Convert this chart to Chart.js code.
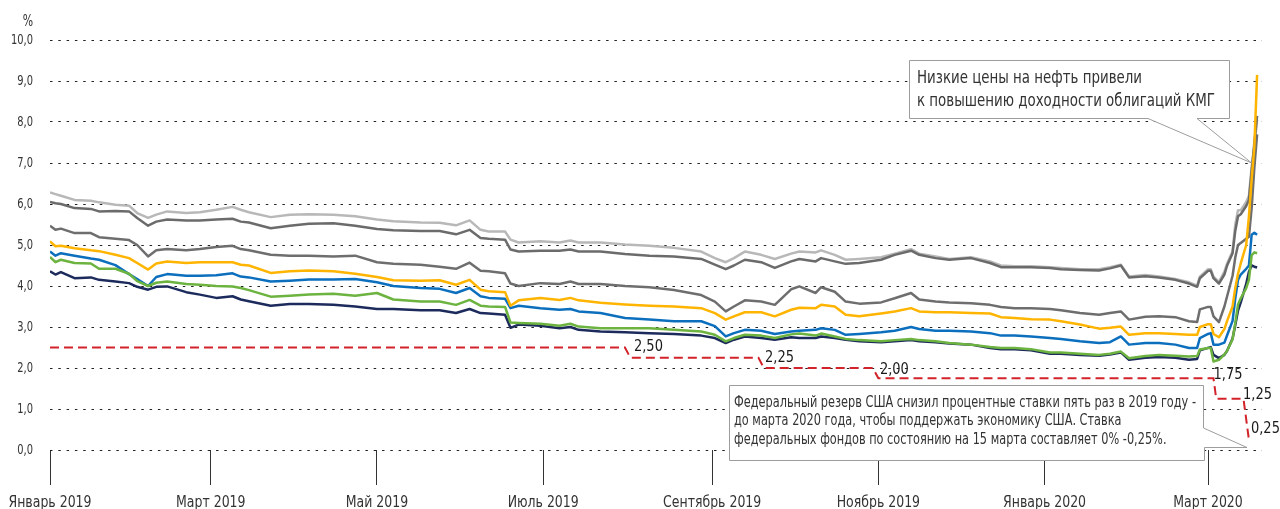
<!DOCTYPE html>
<html><head><meta charset="utf-8">
<script src="https://cdn.jsdelivr.net/npm/chart.js@4.4.1/dist/chart.umd.min.js"></script>
<style>html,body{margin:0;padding:0;background:#fff;overflow:hidden}canvas{display:block}</style>
</head><body>
<canvas id="c" width="1280" height="509"></canvas>
<script>
const FONT = "'DejaVu Sans Condensed', 'DejaVu Sans', sans-serif";

// days since 1 Jan 2019
const days = [0,2,4,9,15,18,24,29,32,36,39,43,50,55,61,67,70,73,81,88,95,104,112,120,126,136,143,149,154,158,161,167,169,172,180,187,191,194,202,211,220,229,239,244,248,251,255,261,266,272,275,281,283,288,292,297,305,310,316,319,325,330,338,345,349,354,360,367,371,378,385,389,393,396,402,407,413,418,421,422,425,426,427,429,431,432,434,435,436,437,439,440,441,442,443];

const lightGray = [6.28,6.24,6.20,6.10,6.08,6.04,5.98,5.96,5.78,5.66,5.74,5.82,5.78,5.80,5.86,5.93,5.86,5.80,5.68,5.74,5.75,5.74,5.70,5.62,5.58,5.55,5.54,5.48,5.60,5.37,5.33,5.33,5.13,5.06,5.09,5.06,5.11,5.06,5.06,5.01,4.98,4.93,4.84,4.68,4.58,4.68,4.84,4.76,4.66,4.79,4.84,4.82,4.87,4.76,4.64,4.66,4.70,4.79,4.90,4.79,4.72,4.66,4.70,4.60,4.50,4.48,4.48,4.46,4.44,4.41,4.41,4.46,4.52,4.23,4.27,4.23,4.17,4.09,4.01,4.23,4.41,4.41,4.23,4.10,4.35,4.55,4.85,5.50,5.85,5.85,6.05,6.20,6.90,7.40,8.05];
const darkGray = [6.05,6.02,6.00,5.90,5.88,5.82,5.83,5.82,5.66,5.47,5.57,5.62,5.60,5.60,5.62,5.64,5.57,5.55,5.41,5.47,5.52,5.53,5.47,5.39,5.36,5.34,5.34,5.26,5.37,5.17,5.15,5.13,4.89,4.84,4.86,4.86,4.89,4.84,4.84,4.78,4.74,4.72,4.66,4.52,4.41,4.50,4.64,4.58,4.44,4.60,4.66,4.60,4.68,4.60,4.54,4.56,4.64,4.76,4.86,4.76,4.68,4.64,4.68,4.56,4.46,4.46,4.46,4.44,4.41,4.39,4.38,4.43,4.50,4.21,4.24,4.21,4.15,4.06,3.98,4.19,4.37,4.37,4.19,4.06,4.28,4.50,4.80,5.35,5.70,5.75,5.95,6.10,6.80,7.50,8.15];
const midGray = [5.47,5.37,5.40,5.29,5.29,5.19,5.15,5.12,5.00,4.72,4.87,4.90,4.87,4.90,4.95,4.98,4.90,4.87,4.76,4.74,4.74,4.72,4.74,4.58,4.54,4.52,4.47,4.42,4.57,4.37,4.36,4.31,4.06,4.00,4.07,4.05,4.11,4.05,4.05,4.00,3.97,3.90,3.78,3.62,3.38,3.50,3.65,3.62,3.54,3.92,3.99,3.83,3.97,3.86,3.62,3.57,3.60,3.70,3.83,3.67,3.62,3.60,3.58,3.54,3.49,3.46,3.46,3.44,3.41,3.34,3.30,3.34,3.38,3.18,3.25,3.26,3.24,3.14,3.12,3.43,3.49,3.49,3.26,3.12,3.50,3.75,4.25,4.70,5.00,5.05,5.15,5.20,5.90,6.90,7.70];
const yellow = [5.09,4.97,4.98,4.92,4.87,4.85,4.76,4.68,4.56,4.40,4.55,4.60,4.56,4.58,4.58,4.58,4.52,4.50,4.32,4.36,4.38,4.36,4.30,4.22,4.14,4.13,4.14,4.03,4.15,3.91,3.87,3.85,3.52,3.65,3.71,3.66,3.71,3.65,3.59,3.55,3.52,3.50,3.46,3.34,3.18,3.26,3.36,3.36,3.26,3.42,3.47,3.46,3.54,3.50,3.30,3.26,3.33,3.38,3.46,3.38,3.36,3.36,3.34,3.33,3.24,3.22,3.19,3.18,3.14,3.06,2.96,2.98,3.01,2.81,2.85,2.85,2.83,2.81,2.81,3.00,3.07,3.07,2.83,2.75,2.95,3.15,3.50,3.95,4.30,4.55,5.00,5.70,6.60,7.40,9.15];
const blue = [4.84,4.74,4.80,4.74,4.67,4.64,4.51,4.29,4.17,4.00,4.22,4.29,4.25,4.25,4.26,4.31,4.23,4.21,4.11,4.13,4.16,4.16,4.17,4.09,4.00,3.95,3.93,3.83,3.95,3.75,3.71,3.69,3.46,3.52,3.46,3.42,3.44,3.38,3.34,3.22,3.18,3.14,3.14,3.02,2.77,2.85,2.93,2.91,2.83,2.89,2.91,2.93,2.97,2.93,2.81,2.83,2.87,2.91,3.00,2.95,2.91,2.91,2.89,2.85,2.79,2.79,2.77,2.73,2.71,2.65,2.61,2.63,2.77,2.57,2.61,2.61,2.57,2.49,2.49,2.73,2.83,2.85,2.57,2.57,2.62,2.80,3.15,3.70,4.15,4.28,4.42,4.50,5.25,5.30,5.25];
const green = [4.71,4.58,4.64,4.56,4.55,4.42,4.42,4.30,4.12,4.00,4.08,4.11,4.05,4.03,4.00,3.99,3.95,3.90,3.74,3.76,3.79,3.81,3.76,3.83,3.67,3.62,3.62,3.54,3.66,3.52,3.50,3.49,3.11,3.10,3.08,3.03,3.08,3.01,2.97,2.97,2.97,2.93,2.89,2.81,2.65,2.73,2.81,2.79,2.73,2.82,2.84,2.79,2.84,2.77,2.71,2.68,2.65,2.68,2.71,2.68,2.65,2.61,2.57,2.51,2.49,2.49,2.46,2.38,2.38,2.35,2.32,2.35,2.40,2.24,2.29,2.32,2.30,2.28,2.29,2.45,2.49,2.49,2.16,2.20,2.33,2.42,2.70,3.10,3.55,3.70,3.95,4.15,4.75,4.82,4.80];
const navy = [4.36,4.28,4.34,4.19,4.21,4.15,4.11,4.07,3.98,3.91,3.98,3.99,3.85,3.79,3.71,3.75,3.67,3.63,3.52,3.56,3.56,3.54,3.50,3.44,3.44,3.41,3.41,3.34,3.44,3.34,3.33,3.30,2.98,3.06,3.03,2.97,3.00,2.93,2.89,2.87,2.85,2.83,2.79,2.73,2.61,2.69,2.77,2.73,2.69,2.75,2.73,2.73,2.77,2.73,2.69,2.65,2.63,2.65,2.68,2.65,2.63,2.60,2.57,2.49,2.46,2.46,2.43,2.35,2.35,2.32,2.30,2.33,2.38,2.20,2.25,2.27,2.25,2.20,2.22,2.43,2.49,2.51,2.32,2.24,2.32,2.42,2.72,3.05,3.40,3.60,4.05,4.35,4.50,4.47,4.45];

// US Fed funds rate (upper bound), steps
const fedDays  = [0,211,213,260,262,302,304,427,428,438,440,441];
const fedRates = [2.50,2.50,2.25,2.25,2.00,2.00,1.75,1.75,1.25,1.25,0.25,0.25];

const tickDays = [0,59,120,181,243,304,365,425];
const tickLabels = ['Январь 2019','Март 2019','Май 2019','Июль 2019','Сентябрь 2019','Ноябрь 2019','Январь 2020','Март 2020'];
const yTicks = [0,1,2,3,4,5,6,7,8,9,10];

const noteTop = ['Низкие цены на нефть привели','к повышению доходности облигаций КМГ'];
const noteBottom = ['Федеральный резерв США снизил процентные ставки пять раз в 2019 году -',
  'до марта 2020 года, чтобы поддержать экономику США. Ставка',
  'федеральных фондов по состоянию на 15 марта составляет 0% -0,25%.'];

function pts(xs, ys){ return xs.map((d,i)=>({x:d, y:ys[i]})); }
function line(label, vals, color){
  return {label, data: pts(days, vals), borderColor: color, borderWidth: 2.5, pointRadius: 0, tension: 0, fill: false, borderJoinStyle:'round'};
}
function txt(ctx, s, x, y, size, align, base, sx, color){
  ctx.save();
  ctx.font = size + 'px ' + FONT;
  ctx.textAlign = align; ctx.textBaseline = base; ctx.fillStyle = color;
  ctx.translate(x, y); ctx.scale(sx, 1);
  ctx.fillText(s, 0, 0);
  ctx.restore();
}
function fitScale(ctx, s, size, width){
  ctx.save(); ctx.font = size + 'px ' + FONT;
  const w = ctx.measureText(s).width; ctx.restore();
  return width / w;
}
const fmt1 = v => v.toFixed(1).replace('.', ',');
const fmt2 = v => v.toFixed(2).replace('.', ',');

const labelOffsets = [[9,-1],[6.5,0],[7,2],[0,-3],[-0.5,-4],[-0.7,-11]];

const annot = {
  id: 'annot',
  afterDatasetsDraw(chart){
    const {ctx, scales:{x, y}} = chart;
    const sR = fitScale(ctx, '2,50', 16, 29);
    let k = 0;
    for (let i = 0; i < fedRates.length; i += 2){
      const endDay = fedDays[i+1], lvl = fedRates[i+1];
      const o = labelOffsets[k++];
      txt(ctx, fmt2(lvl), x.getPixelForValue(endDay) + o[0], y.getPixelForValue(lvl) + o[1], 16, 'left', 'middle', sR, '#1a1a1a');
    }
  },
  afterDraw(chart){
    const {ctx, scales:{x, y}} = chart;
    // axis labels
    const sY = fitScale(ctx, '10,0', 14.5, 22);
    yTicks.forEach(v => txt(ctx, fmt1(v), 33, y.getPixelForValue(v), 14.5, 'right', 'middle', sY, '#333'));
    const sX = fitScale(ctx, tickLabels[0], 16, 83);
    tickDays.forEach((d, i) => txt(ctx, tickLabels[i], x.getPixelForValue(d), 506.5, 16, 'center', 'alphabetic', sX, '#333'));
    txt(ctx, '%', 28, 21.5, 16, 'center', 'middle', sY, '#333');

    ctx.save();
    // top callout
    const tx = x.getPixelForValue(441), ty = y.getPixelForValue(7.0);
    ctx.beginPath();
    ctx.moveTo(909.5, 60.5); ctx.lineTo(1229.5, 60.5); ctx.lineTo(1229.5, 118.5);
    ctx.lineTo(1197, 118.5); ctx.lineTo(tx, ty); ctx.lineTo(1148, 118.5);
    ctx.lineTo(909.5, 118.5); ctx.closePath();
    ctx.fillStyle = '#fff'; ctx.fill();
    ctx.strokeStyle = '#9d9d9d'; ctx.lineWidth = 1; ctx.stroke();

    // bottom callout
    ctx.beginPath();
    ctx.moveTo(729.5, 385.5); ctx.lineTo(1203.5, 385.5); ctx.lineTo(1203.5, 428);
    ctx.lineTo(1247, 447.5); ctx.lineTo(1204.5, 447.5); ctx.lineTo(1204.5, 460.5);
    ctx.lineTo(729.5, 460.5); ctx.closePath();
    ctx.fillStyle = '#fff'; ctx.fill();
    ctx.strokeStyle = '#9d9d9d'; ctx.stroke();
    ctx.restore();

    const sTop = fitScale(ctx, noteTop[1], 18, 298);
    txt(ctx, noteTop[0], 917, 83, 18, 'left', 'alphabetic', sTop, '#333');
    txt(ctx, noteTop[1], 917, 106, 18, 'left', 'alphabetic', sTop, '#333');
    const sBot = fitScale(ctx, noteBottom[0], 15, 462);
    txt(ctx, noteBottom[0], 734, 403, 15, 'left', 'middle', sBot, '#333');
    txt(ctx, noteBottom[1], 734, 421.5, 15, 'left', 'middle', sBot, '#333');
    txt(ctx, noteBottom[2], 734, 440, 15, 'left', 'middle', sBot, '#333');
  }
};

new Chart(document.getElementById('c'), {
  type: 'line',
  data: {
    datasets: [
      {label:'ФРС', data: pts(fedDays, fedRates), borderColor:'#d2232a', borderWidth:2, borderDash:[9,5], pointRadius:0, tension:0, fill:false},
      line('y1', yellow, '#ffb400'),
      line('g1', green, '#6cb33f'),
      line('n1', navy, '#1c2b5c'),
      line('b1', blue, '#0b6fbe'),
      line('dg', darkGray, '#6b6b6b'),
      line('mg', midGray, '#6e6e6e'),
      line('lg', lightGray, '#b8b8b8')
    ]
  },
  options: {
    responsive: false, animation: false, devicePixelRatio: 1,
    layout: { padding: { top: 40, right: 18, left: 0, bottom: 0 } },
    plugins: { legend: { display: false }, tooltip: { enabled: false } },
    scales: {
      x: {
        type: 'linear', min: 0, max: 444.8,
        afterBuildTicks: s => { s.ticks = tickDays.map(v => ({ value: v })); },
        afterFit: s => { s.height = 59; },
        ticks: { display: false, autoSkip: false, maxRotation: 0 },
        grid: { drawOnChartArea: false, drawTicks: true, tickLength: 35, color: '#333', lineWidth: 1 },
        border: { display: false }
      },
      y: {
        min: 0, max: 10,
        afterBuildTicks: s => { s.ticks = yTicks.map(v => ({ value: v })); },
        afterFit: s => { s.width = 50; },
        ticks: { display: false },
        grid: { drawTicks: false, color: '#222', lineWidth: 1 },
        border: { display: false, dash: [2.5, 5.8] }
      }
    }
  },
  plugins: [annot]
});
</script>
</body></html>
